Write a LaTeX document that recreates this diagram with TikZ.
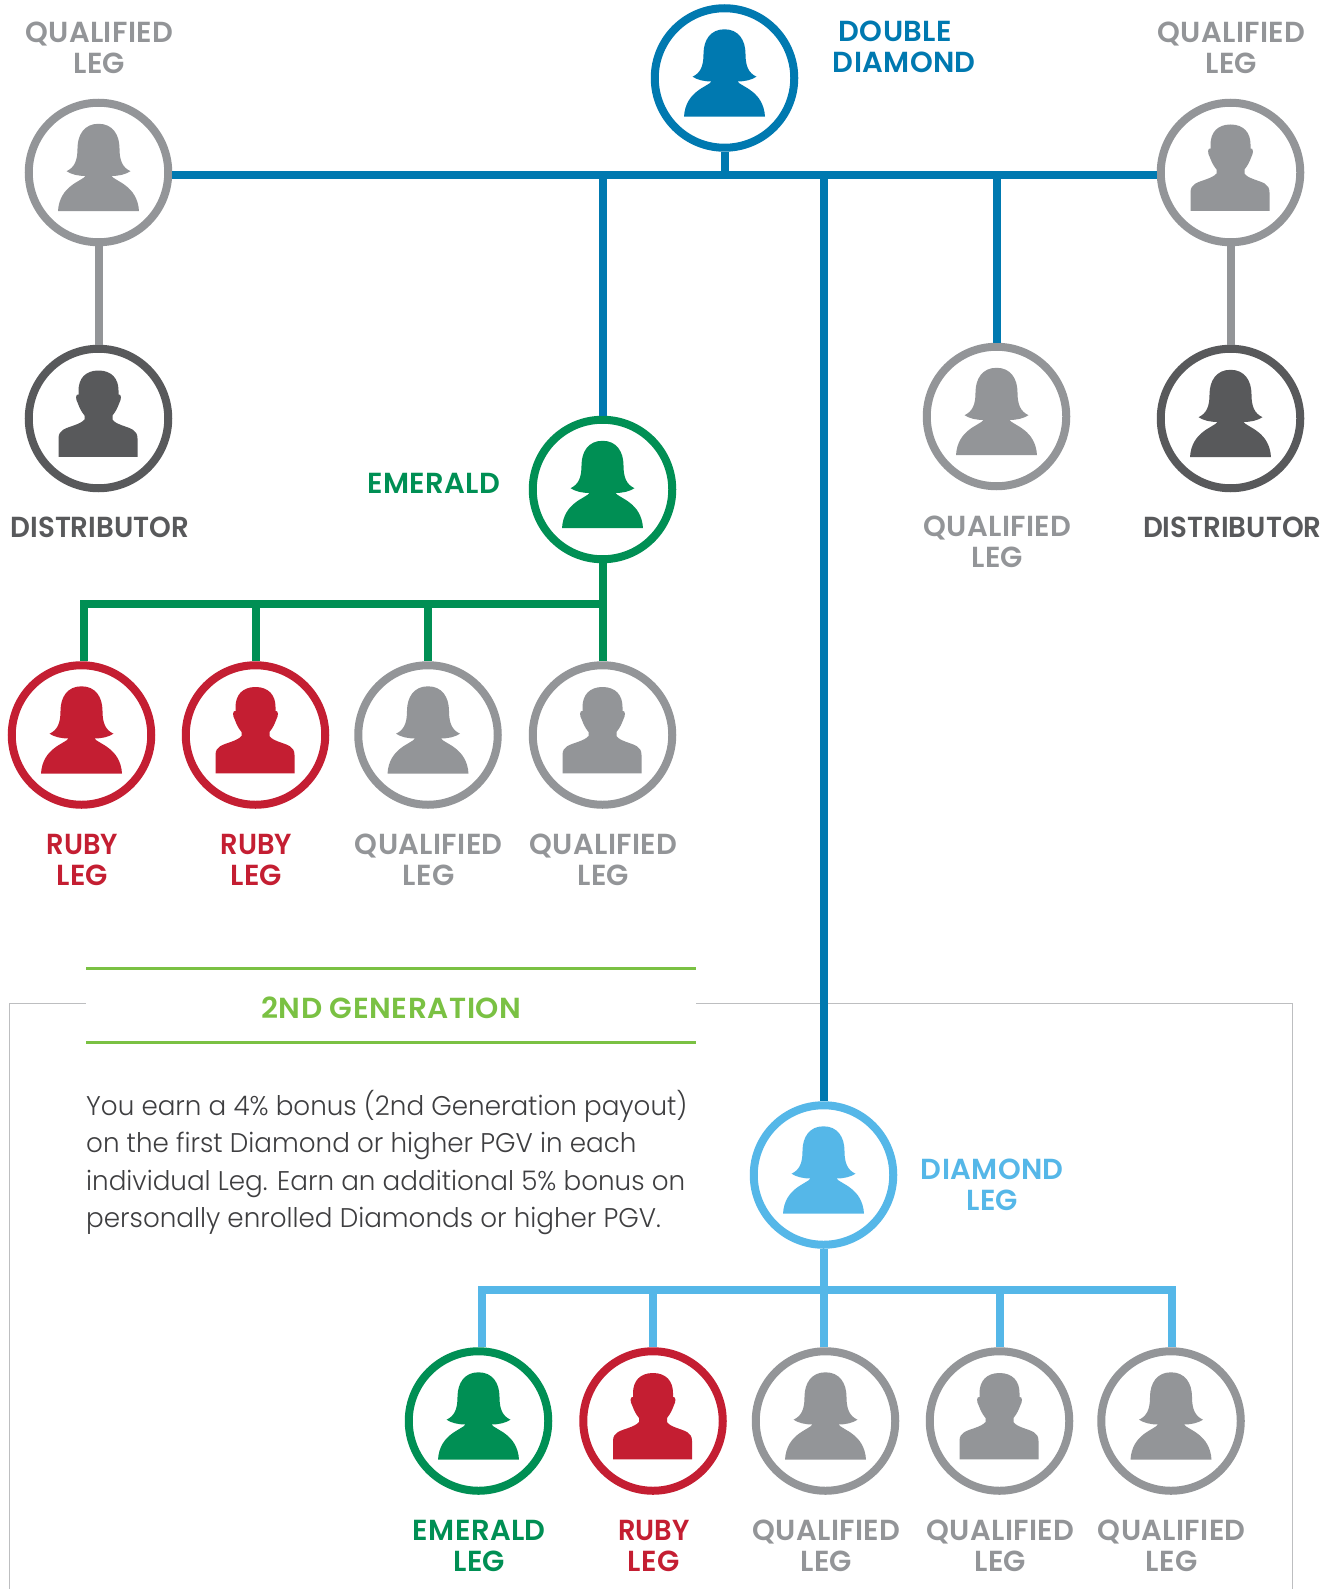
\documentclass[tikz,border=0pt]{standalone}
\usepackage{fontspec}
\setmainfont{Poppins}
\newfontfamily\labelfont[LetterSpace=1.3]{Poppins SemiBold}
\newfontfamily\narrowfont[FakeStretch=0.955]{Poppins SemiBold}
\newfontfamily\rubyfont[FakeStretch=0.94]{Poppins SemiBold}
\newfontfamily\genfont[FakeStretch=1.02,LetterSpace=2]{Poppins SemiBold}
\newfontfamily\bodyfont[FakeStretch=0.97]{Poppins Light}
\definecolor{ddblue}{HTML}{0079B0}
\definecolor{qgray}{HTML}{939598}
\definecolor{dgray}{HTML}{58595B}
\definecolor{emgreen}{HTML}{008F54}
\definecolor{rubyred}{HTML}{C41E32}
\definecolor{dmblue}{HTML}{55B7E8}
\definecolor{lime}{HTML}{7AC143}
\definecolor{framegray}{HTML}{BDBEC0}
\tikzset{
  ring/.style={circle,draw=#1,line width=8pt,fill=white,minimum size=139.5pt,inner sep=0pt},
  lab/.style={text=#1,font=\labelfont\fontsize{29}{31}\selectfont,align=center,inner sep=0pt,xshift=0.8pt},
  conn/.style={draw=#1,line width=8pt},
  pics/woman/.style={code={
    \fill[#1] (0,-48.7) .. controls (-14,-48.7) and (-21,-38) .. (-21,-24)
      .. controls (-21,-12) and (-24,-5) .. (-32,-1.3)
      .. controls (-27,2) and (-20,3.5) .. (-13,3.5)
      .. controls (-17,9) and (-39,13) .. (-40.5,38.7)
      -- (40.5,38.7)
      .. controls (39,13) and (17,9) .. (13,3.5)
      .. controls (20,3.5) and (27,2) .. (32,-1.3)
      .. controls (24,-5) and (21,-12) .. (21,-24)
      .. controls (21,-38) and (14,-48.7) .. (0,-48.7) -- cycle;
  }},
  pics/man/.style={code={
    \fill[#1] (0,-48) .. controls (-13,-48) and (-20,-40) .. (-20,-28)
      -- (-20,-24) .. controls (-23,-25) and (-23,-19) .. (-21,-16)
      .. controls (-19,-11) and (-18,-8) .. (-14,-3)
      -- (-14,1) .. controls (-18,6) and (-30,8) .. (-35,11)
      .. controls (-38,13) and (-40,15) .. (-40,20)
      -- (-40,38.3) -- (39,38.3) -- (39,20)
      .. controls (39,15) and (37,13) .. (34,11)
      .. controls (29,8) and (17,6) .. (14,1)
      -- (14,-3) .. controls (18,-8) and (19,-11) .. (21,-16)
      .. controls (23,-19) and (23,-25) .. (20,-24)
      -- (20,-28) .. controls (20,-40) and (13,-48) .. (0,-48) -- cycle;
  }}
}
\newcommand{\person}[5]{%
  \node[ring=#4] (#1) at (#2,#3) {};
  \pic at (#2,#3) {#5=#4};
}
\begin{document}
\begin{tikzpicture}[x=1pt,y=-1pt]
\useasboundingbox (0,0) rectangle (1333,1589);
\fill[white] (0,0) rectangle (1333,1589);
% frame
\coordinate (fa) at (9.5,1589);
\coordinate (fb) at (9.5,1003.5);
\coordinate (fc) at (86,1003.5);
\coordinate (fd) at (696,1003.5);
\coordinate (fe) at (1292.5,1003.5);
\coordinate (ff) at (1292.5,1589);
\draw[framegray,line width=1.2pt] (fa) -- (fb) -- (fc);
\draw[framegray,line width=1.2pt] (fd) -- (fe) -- (ff);
% people
\person{dd}{724.5}{78}{ddblue}{woman}
\person{qa}{98.5}{172.5}{qgray}{woman}
\person{qb}{1230.5}{172.5}{qgray}{man}
\person{da}{98.5}{418.5}{dgray}{man}
\person{db}{1230.5}{418.5}{dgray}{woman}
\person{qc}{996.5}{416.5}{qgray}{woman}
\person{em}{602.5}{489.5}{emgreen}{woman}
\person{ra}{81.5}{735}{rubyred}{woman}
\person{rb}{255.5}{735}{rubyred}{man}
\person{qd}{428}{735}{qgray}{woman}
\person{qe}{602.5}{735}{qgray}{man}
\person{dm}{823.5}{1175}{dmblue}{woman}
\person{eb}{478.5}{1421}{emgreen}{woman}
\person{rc}{653}{1421}{rubyred}{man}
\person{qf}{825.5}{1421}{qgray}{woman}
\person{qg}{999.5}{1421}{qgray}{man}
\person{qh}{1171}{1421}{qgray}{woman}
% top connectors
\coordinate (topbar) at (724.5,175);
\draw[conn=ddblue] (qa.east |- topbar) -- (qb.west |- topbar);
\draw[conn=ddblue] (dd.south) -- (topbar);
\draw[conn=ddblue] (em.north |- topbar) -- (em.north);
\draw[conn=ddblue] (dm.north |- topbar) -- (dm.north);
\draw[conn=ddblue] (qc.north |- topbar) -- (qc.north);
\draw[conn=qgray] (qa.south) -- (da.north);
\draw[conn=qgray] (qb.south) -- (db.north);
% emerald tree
\coordinate (emL) at (84,604);
\coordinate (emR) at (602.5,604);
\draw[conn=emgreen] (em.south) -- (qe.north);
\draw[conn=emgreen,line cap=rect] (emL) -- (emR);
\draw[conn=emgreen] (emL) -- (emL |- ra.north);
\draw[conn=emgreen] (rb.north |- emL) -- (rb.north);
\draw[conn=emgreen] (qd.north |- emL) -- (qd.north);
% diamond tree
\coordinate (dmL) at (481.5,1290);
\coordinate (dmR) at (1172,1290);
\draw[conn=dmblue,line cap=rect] (dmL) -- (dmR);
\draw[conn=dmblue] (dm.south) -- (dm.south |- qf.north);
\draw[conn=dmblue] (dmL) -- (dmL |- eb.north);
\draw[conn=dmblue] (rc.north |- dmL) -- (rc.north);
\draw[conn=dmblue] (qg.north |- dmL) -- (qg.north);
\draw[conn=dmblue] (dmR) -- (dmR |- qh.north);
% labels
\node[lab=ddblue] (tdd) at (903.5,46.5) {\hspace*{-18pt}DOUBLE\\DIAMOND};
\node[lab=qgray] (tqa) at (98.5,47.5) {QUALIFIED\\LEG};
\node[lab=qgray] (tqb) at (1230.5,47.5) {QUALIFIED\\LEG};
\node[lab=dgray,font=\narrowfont\fontsize{29}{31}\selectfont] (tda) at (99,527) {DISTRIBUTOR};
\node[lab=dgray,font=\narrowfont\fontsize{29}{31}\selectfont] (tdb) at (1231.5,527) {DISTRIBUTOR};
\node[lab=qgray] (tqc) at (996.5,541.5) {QUALIFIED\\LEG};
\node[lab=emgreen] (tem) at (433,483.5) {EMERALD};
\node[lab=rubyred] (tra) at (81.5,860) {{\rubyfont RUBY}\\LEG};
\node[lab=rubyred] (trb) at (255.5,860) {{\rubyfont RUBY}\\LEG};
\node[lab=qgray] (tqd) at (428,860) {QUALIFIED\\LEG};
\node[lab=qgray] (tqe) at (602.5,860) {QUALIFIED\\LEG};
\node[lab=dmblue] (tdm) at (991.5,1184.5) {DIAMOND\\LEG};
\node[lab=emgreen] (teb) at (478.5,1545.5) {EMERALD\\LEG};
\node[lab=rubyred] (trc) at (653,1545.5) {{\rubyfont RUBY}\\LEG};
\node[lab=qgray] (tqf) at (825.5,1545.5) {QUALIFIED\\LEG};
\node[lab=qgray] (tqg) at (999.5,1545.5) {QUALIFIED\\LEG};
\node[lab=qgray] (tqh) at (1171,1545.5) {QUALIFIED\\LEG};
% generation panel
\coordinate (gaL) at (86,968);
\coordinate (gaR) at (696,968);
\coordinate (gbL) at (86,1042.5);
\coordinate (gbR) at (696,1042.5);
\draw[lime,line width=3pt] (gaL) -- (gaR);
\draw[lime,line width=3pt] (gbL) -- (gbR);
\node[lab=lime,font=\genfont\fontsize{29}{31}\selectfont] (tgen) at (390.5,1007.5) {2ND GENERATION};
\node[anchor=north west,inner sep=0pt,align=left,text=dgray!70!black,font=\bodyfont\fontsize{27}{37.5}\selectfont] (body) at (86,1090)
 {You earn a 4\% bonus (2nd Generation payout)\\on the first Diamond or higher PGV in each\\individual Leg. Earn an additional 5\% bonus on\\personally enrolled Diamonds or higher PGV.};
\end{tikzpicture}
\end{document}
